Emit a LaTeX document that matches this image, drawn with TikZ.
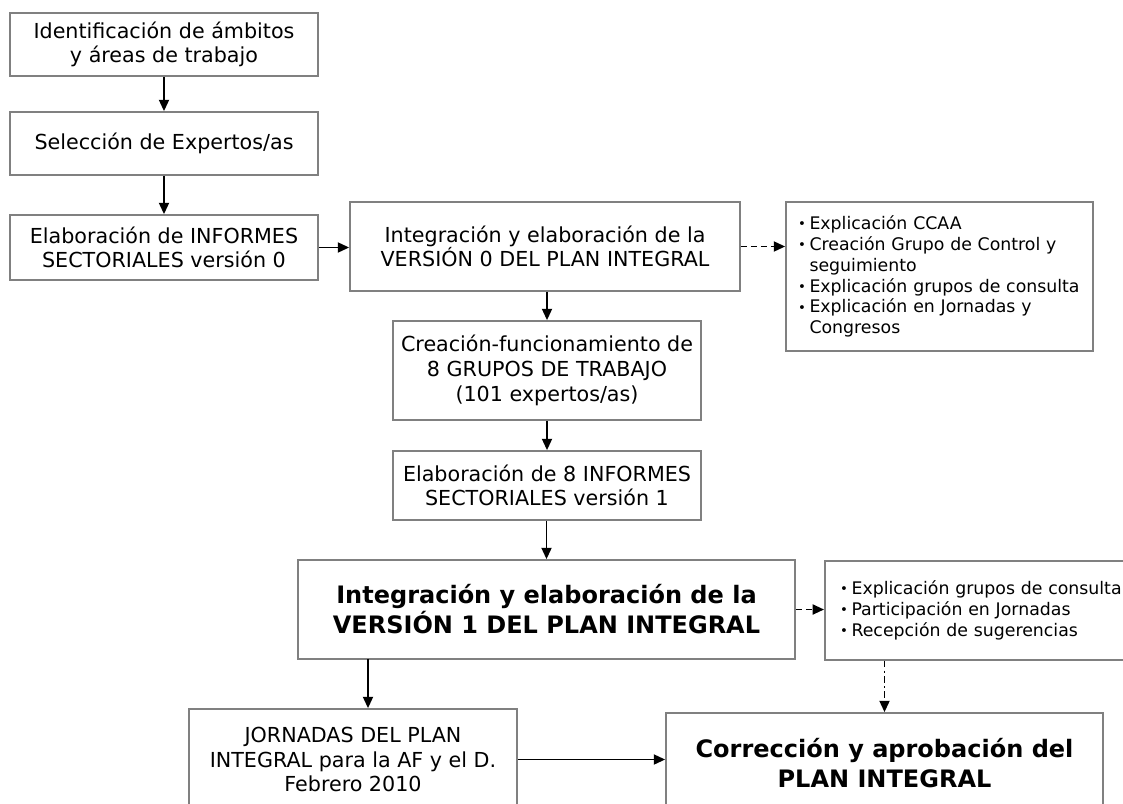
\documentclass[tikz,border=0pt]{standalone}
\usepackage{fontspec}
\setmainfont{DejaVu Sans}
\usetikzlibrary{arrows.meta,calc}
\definecolor{boxgray}{RGB}{128,128,128}
\newcommand\bul{\makebox[8.5pt][l]{\raisebox{0.6pt}{\fontsize{10pt}{10pt}\selectfont\textbullet}}}
\newcommand\bulsp{\makebox[8.5pt][l]{}}
\begin{document}
\begin{tikzpicture}[x=0.75pt,y=-0.75pt,
  box/.style={draw=boxgray, line width=1.3pt, fill=white, inner sep=0pt, align=center,
    font=\fontsize{15.5pt}{18.5pt}\selectfont},
  bigbox/.style={box, font=\fontsize{18pt}{22.5pt}\selectfont\bfseries},
  bulbox/.style={draw=boxgray, line width=1.3pt, fill=white, inner ysep=0pt, align=left,
    text width=212pt, font=\fontsize{13pt}{15.6pt}\selectfont},
  arr/.style={line width=1.4pt, -{Triangle[length=8.5pt,width=7.5pt]}},
  darr/.style={arr, dash pattern=on 4.5pt off 3pt},
  ddarr/.style={arr, dash pattern=on 5pt off 2.5pt on 1.5pt off 2.5pt},
]
\useasboundingbox (0,0) rectangle (1123,803);
\fill[white] (0,0) rectangle (1123,803);
\clip (0,0) rectangle (1123,803);

\node[box, minimum width=231pt, minimum height=47.25pt] (n1) at (164,44.5) {Identificación de ámbitos\\y áreas de trabajo};
\node[box, minimum width=231pt, minimum height=47.25pt] (n2) at (164,143.5) {Selección de Expertos/as};
\node[box, minimum width=231pt, minimum height=48.75pt] (n3) at (164,247.5) {Elaboración de INFORMES\\SECTORIALES versión 0};
\node[box, minimum width=292.5pt, minimum height=66.75pt] (n4) at (545,246.5) {Integración y elaboración de la\\VERSIÓN 0 DEL PLAN INTEGRAL};
\node[bulbox, inner xsep=9.125pt, minimum height=111.75pt] (b1) at (939.5,276.5) {\bul Explicación CCAA\\\bul Creación Grupo de Control y\\\bulsp seguimiento\\\bul Explicación grupos de consulta\\\bul Explicación en Jornadas y\\\bulsp Congresos};
\node[box, minimum width=231pt, minimum height=74.25pt] (n5) at (547,370.5) {Creación-funcionamiento de\\8 GRUPOS DE TRABAJO\\(101 expertos/as)};
\node[box, minimum width=231pt, minimum height=51.75pt] (n6) at (547,485.5) {Elaboración de 8 INFORMES\\SECTORIALES versión 1};
\node[bigbox, minimum width=372.75pt, minimum height=74.25pt] (n7) at (546.5,609.5) {Integración y elaboración de la\\VERSIÓN 1 DEL PLAN INTEGRAL};
\node[bulbox, inner xsep=11.5pt, minimum height=74.25pt, anchor=north west] (b2) at (824,560) {\bul Explicación grupos de consulta\\\bul Participación en Jornadas\\\bul Recepción de sugerencias};
\node[box, minimum width=246pt, minimum height=75.75pt] (n8) at (353,759.5) {JORNADAS DEL PLAN\\INTEGRAL para la AF y el D.\\Febrero 2010};
\node[bigbox, minimum width=327.75pt, minimum height=75pt] (n9) at (884.5,763) {Corrección y aprobación del\\PLAN INTEGRAL};

\coordinate (a78) at (368,659);

\draw[arr] (n1) -- (n2);
\draw[arr] (n2) -- (n3);
\draw[arr] (n3.east) -- (n3.east -| n4.west);
\draw[darr] (n4.east) -- (n4.east -| b1.west);
\draw[arr] (n4.south -| n5.north) -- (n5.north);
\draw[arr] (n5) -- (n6);
\draw[arr] (n6.south -| n7.north) -- (n7.north);
\draw[darr] (n7.east) -- (n7.east -| b2.west);
\draw[arr] (a78) -- (a78 |- n8.north);
\draw[ddarr] (b2.south -| n9.north) -- (n9.north);
\draw[arr] (n8.east) -- (n8.east -| n9.west);
\end{tikzpicture}
\end{document}
